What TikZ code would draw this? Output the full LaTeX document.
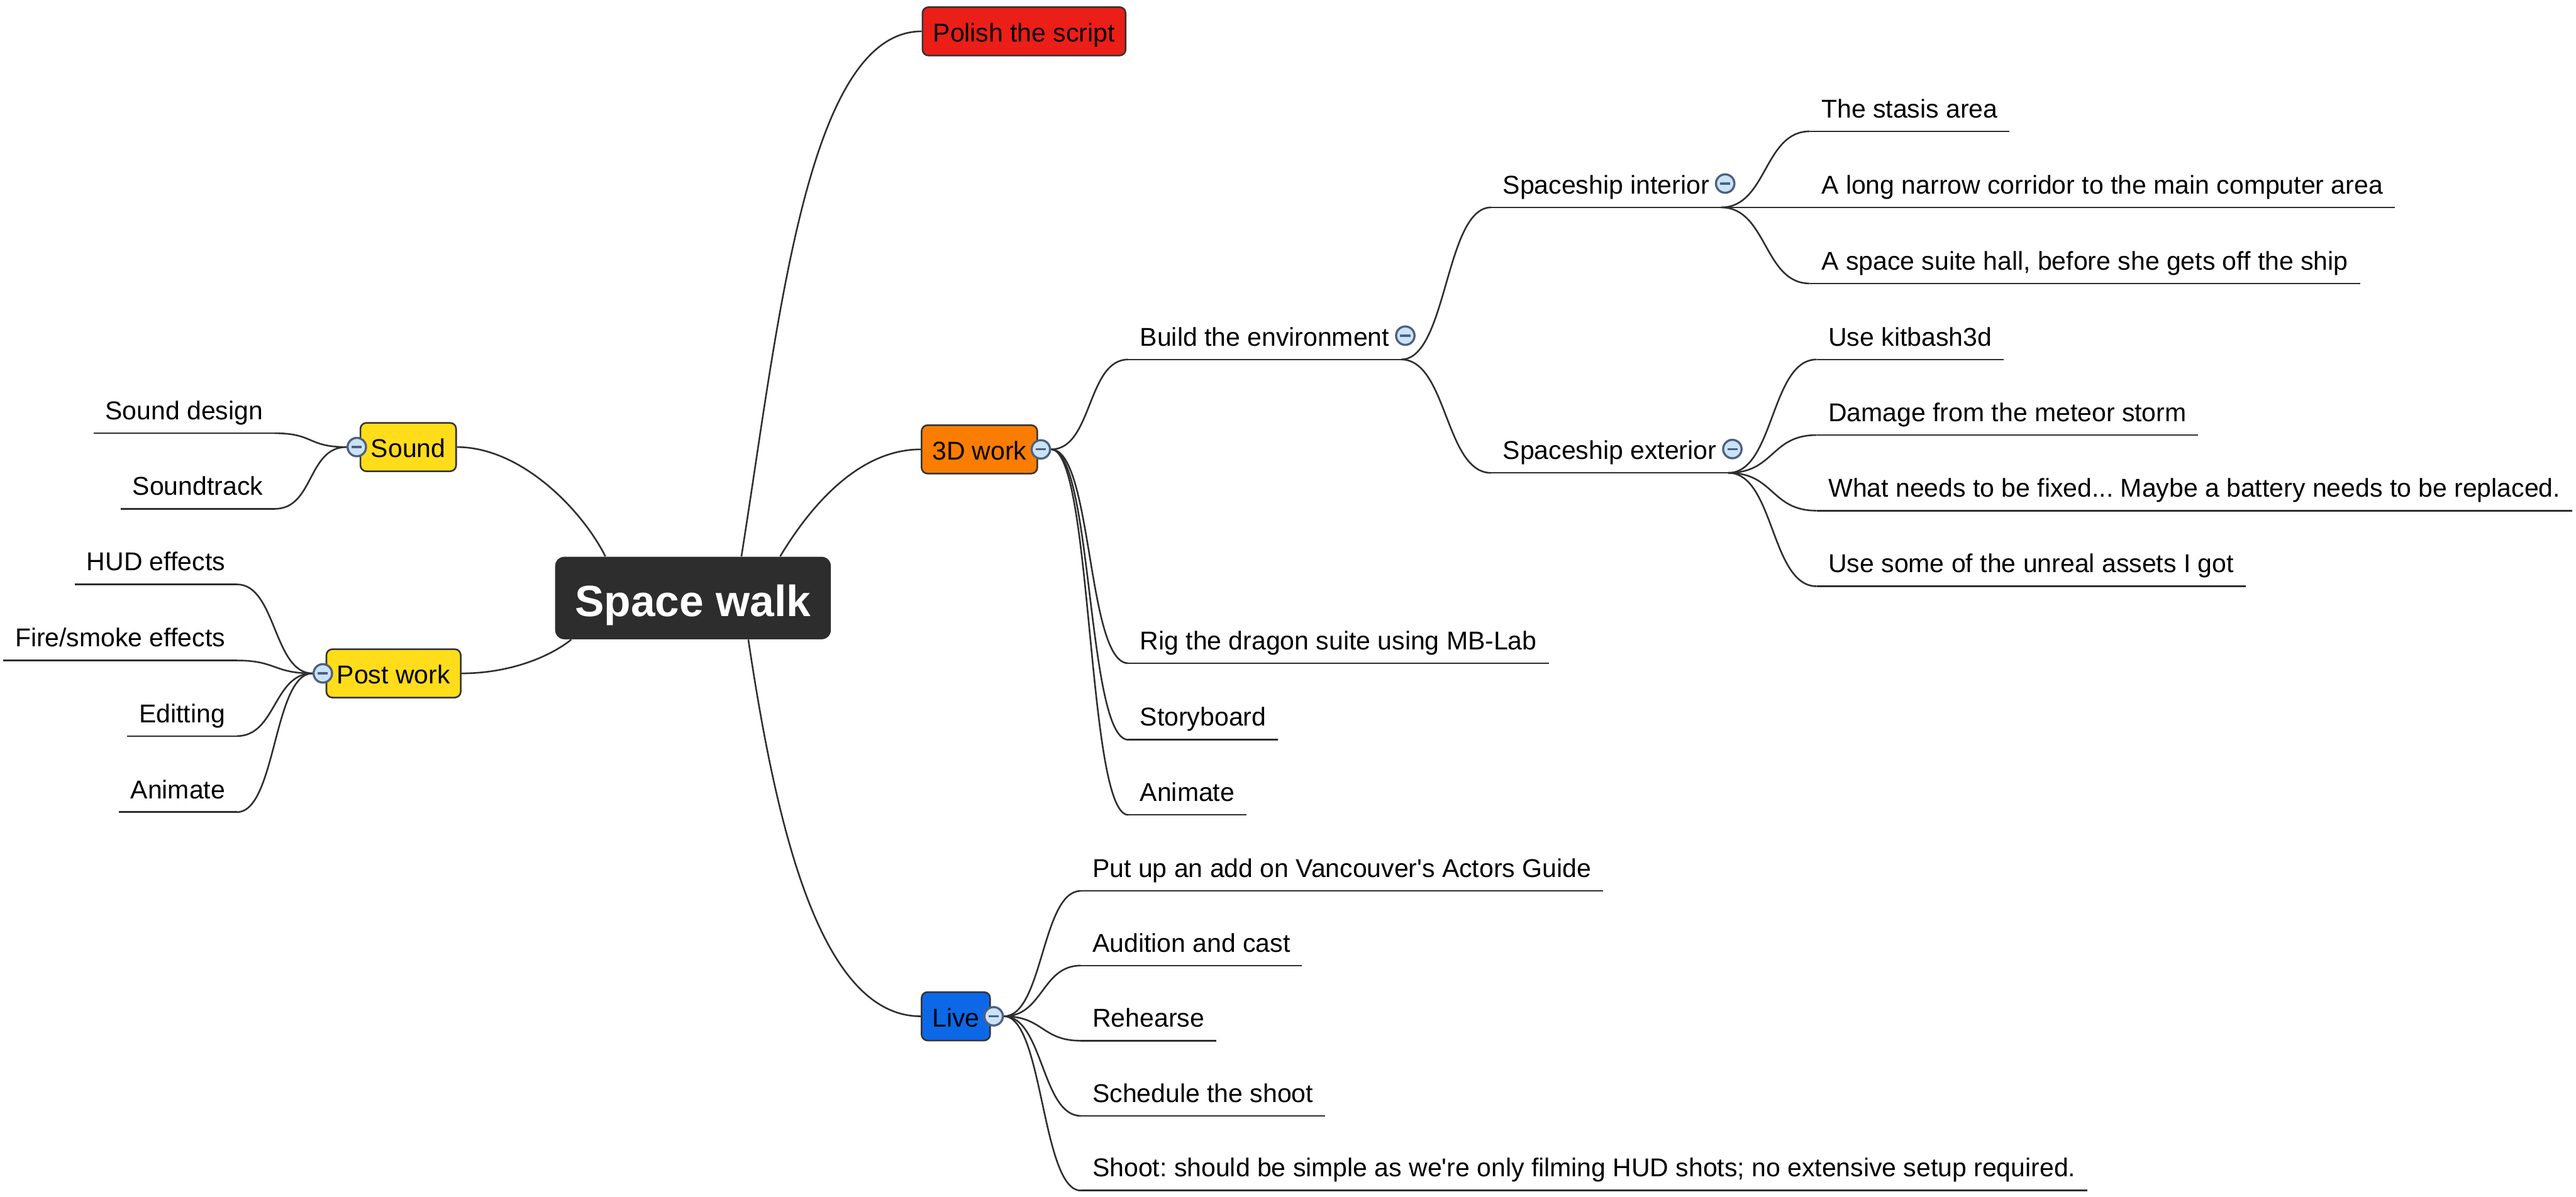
\documentclass[tikz,border=0pt]{standalone}
\usepackage{fontspec}
\setmainfont{Liberation Sans}
\usepackage{tikz}
\usetikzlibrary{
    backgrounds,
    calc
}
\frenchspacing
\definecolor{RootFill}{RGB}{45,45,45}
\definecolor{Rim}{RGB}{51,51,51}
\definecolor{WireGray}{RGB}{46,46,46}
\definecolor{ScriptRed}{RGB}{236,30,24}
\definecolor{WorkOrange}{RGB}{250,125,0}
\definecolor{SoundYellow}{RGB}{255,221,26}
\definecolor{LiveBlue}{RGB}{13,104,232}
\definecolor{FoldFill}{RGB}{201,227,247}
\definecolor{FoldRim}{RGB}{79,95,130}
\newcommand{\leaffont}{\fontsize{15.9}{18}\selectfont}
\newcommand{\rootfont}{\fontsize{27}{32}\selectfont\bfseries}
\tikzset{
  root/.style   = {fill=RootFill, text=white, rounded corners=0.2cm,
                   minimum width=5.98cm, minimum height=1.79cm,
                   text height=0.85cm, text depth=0.05cm, font=\rootfont},
  topic/.style  = {draw=Rim, line width=1pt, rounded corners=0.13cm,
                   minimum height=1.05cm, inner xsep=0.23cm,
                   text height=0.52cm, text depth=0.06cm, font=\leaffont},
  leaf/.style   = {inner xsep=0.25cm, inner ysep=0pt, text height=0.42cm,
                   text depth=0.29cm, font=\leaffont},
  rleaf/.style  = {leaf, anchor=south west},
  lleaf/.style  = {leaf, anchor=south east},
  fold/.style   = {circle, draw=FoldRim, fill=FoldFill, line width=1.3pt,
                   minimum size=0.40cm, inner sep=0pt,
                   path picture={\draw[FoldRim, line width=1.3pt]
                     ([xshift=-0.11cm]path picture bounding box.center) --
                     ([xshift=0.11cm]path picture bounding box.center);}},
  wire/.style   = {draw=WireGray, line width=1pt},
  twig/.style   = {to path={.. controls +(#1,0) and +(-#1,0) .. (\tikztotarget)}}
}

\begin{document}
\begin{tikzpicture}
\useasboundingbox (0,0) rectangle (55.87,-25.96);

% centre and main topics
\node[root] (root) at (15.03,-12.975) {Space walk};
\node[topic, fill=ScriptRed, anchor=west] (polish) at (19.99,-0.68) {Polish the script};
\node[topic, fill=WorkOrange, anchor=west] (work) at (19.97,-9.75) {3D work};
\node[topic, fill=LiveBlue, anchor=west] (live) at (19.97,-22.05) {Live};
\node[topic, fill=SoundYellow, anchor=east] (sound) at (9.91,-9.70) {Sound};
\node[topic, fill=SoundYellow, anchor=east] (post) at (10.01,-14.61) {Post work};

% 3D work branch
\node[rleaf] (build) at (24.47,-7.80) {Build the environment};
\node[rleaf] (rig) at (24.47,-14.39) {Rig the dragon suite using MB-Lab};
\node[rleaf] (story) at (24.47,-16.05) {Storyboard};
\node[rleaf] (anim) at (24.47,-17.68) {Animate};
\node[rleaf] (inside) at (32.34,-4.50) {Spaceship interior};
\node[rleaf] (outside) at (32.34,-10.26) {Spaceship exterior};
\node[rleaf] (stasis) at (39.25,-2.85) {The stasis area};
\node[rleaf] (corridor) at (39.25,-4.50) {A long narrow corridor to the main computer area};
\node[rleaf] (hall) at (39.25,-6.15) {A space suite hall, before she gets off the ship};
\node[rleaf] (kitbash) at (39.40,-7.80) {Use kitbash3d};
\node[rleaf] (damage) at (39.40,-9.44) {Damage from the meteor storm};
\node[rleaf] (battery) at (39.40,-11.08) {What needs to be fixed... Maybe a battery needs to be replaced.};
\node[rleaf] (unreal) at (39.40,-12.72) {Use some of the unreal assets I got};

% live branch
\node[rleaf] (advert) at (23.44,-19.33) {Put up an add on Vancouver\textquotesingle s Actors Guide};
\node[rleaf] (audition) at (23.44,-20.95) {Audition and cast};
\node[rleaf] (rehearse) at (23.44,-22.58) {Rehearse};
\node[rleaf] (schedule) at (23.44,-24.21) {Schedule the shoot};
\node[rleaf] (shoot) at (23.44,-25.83) {Shoot: should be simple as we\textquotesingle re only filming HUD shots; no extensive setup required.};

% left side
\node[lleaf] (sdesign) at (5.96,-9.40) {Sound design};
\node[lleaf] (strack) at (5.96,-11.04) {Soundtrack};
\node[lleaf] (hud) at (5.14,-12.68) {HUD effects};
\node[lleaf] (fire) at (5.14,-14.33) {Fire/smoke effects};
\node[lleaf] (edit) at (5.14,-15.97) {Editting};
\node[lleaf] (panim) at (5.14,-17.62) {Animate};

% collapse buttons
\node[fold] (fwork) at ([xshift=0.06cm]work.east) {};
\node[fold] (flive) at ([xshift=0.06cm]live.east) {};
\node[fold] (fsound) at ([xshift=-0.06cm]sound.west) {};
\node[fold] (fpost) at ([xshift=-0.06cm]post.west) {};
\node[fold] (fbuild) at ([xshift=0.09cm,yshift=0.22cm]build.base east) {};
\node[fold] (finside) at ([xshift=0.09cm,yshift=0.22cm]inside.base east) {};
\node[fold] (foutside) at ([xshift=0.09cm,yshift=0.22cm]outside.base east) {};

\begin{scope}[on background layer]
\draw[wire] ([xshift=1.05cm]root.north) .. controls +(0.8,5.0) and +(-2.5,0) .. (polish.west);
\draw[wire] ([xshift=1.89cm]root.north) .. controls +(0.6,1.0) and +(-1.4,0) .. (work.west);
\draw[wire] ([xshift=1.2cm]root.south) .. controls +(0.6,-4.0) and +(-2.2,0) .. (live.west);
\draw[wire] ([xshift=-1.9cm]root.north) .. controls +(-0.5,1.0) and +(1.4,0) .. (sound.east);
\draw[wire] ([xshift=-2.64cm]root.south) .. controls +(-0.5,-0.4) and +(1.0,0) .. (post.east);

\foreach \n in {build,rig,story,anim,inside,outside,stasis,corridor,hall,
                kitbash,damage,battery,unreal,advert,audition,rehearse,
                schedule,shoot,sdesign,strack,hud,fire,edit,panim}
  \draw[wire] (\n.south west) -- (\n.south east);

\foreach \n in {build,rig,story,anim}
  \draw[wire] (fwork.east) to[twig=0.9] (\n.south west);
\foreach \n in {inside,outside}
  \draw[wire] (build.south east) to[twig=1.0] (\n.south west);
\foreach \n in {stasis,corridor,hall}
  \draw[wire] (inside.south east) to[twig=1.0] (\n.south west);
\foreach \n in {kitbash,damage,battery,unreal}
  \draw[wire] (outside.south east) to[twig=1.0] (\n.south west);
\foreach \n in {advert,audition,rehearse,schedule,shoot}
  \draw[wire] (flive.east) to[twig=0.85] (\n.south west);
\foreach \n in {sdesign,strack}
  \draw[wire] (fsound.west) to[twig=-0.85] (\n.south east);
\foreach \n in {hud,fire,edit,panim}
  \draw[wire] (fpost.west) to[twig=-0.85] (\n.south east);
\end{scope}
\end{tikzpicture}
\end{document}
